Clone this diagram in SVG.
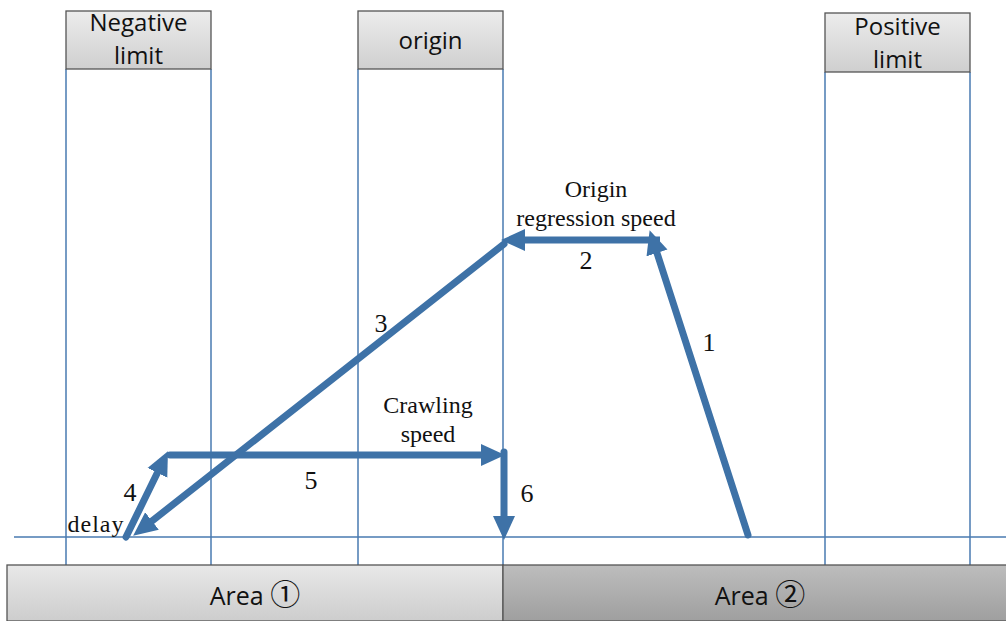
<svg xmlns="http://www.w3.org/2000/svg" width="1006" height="621" viewBox="0 0 1006 621">
<defs>
<linearGradient id="gBox" x1="0" y1="0" x2="0" y2="1"><stop offset="0" stop-color="#ececec"/><stop offset="1" stop-color="#cfcfcf"/></linearGradient>
<linearGradient id="gA1" x1="0" y1="0" x2="0" y2="1"><stop offset="0" stop-color="#e8e8e8"/><stop offset="1" stop-color="#cdcdcd"/></linearGradient>
<linearGradient id="gA2" x1="0" y1="0" x2="0" y2="1"><stop offset="0" stop-color="#bdbdbd"/><stop offset="1" stop-color="#9f9f9f"/></linearGradient>
<marker id="ah" markerUnits="userSpaceOnUse" markerWidth="26" markerHeight="24" viewBox="0 -12 26 24" refX="0" refY="0" orient="auto"><path d="M0,-11 L24,0 L0,11 z" fill="#3e72a7"/></marker>
</defs>
<style>
.grid{stroke:#4a7bb1;stroke-width:1.5;fill:none}
.box{fill:url(#gBox);stroke:#555;stroke-width:1.3}
.lbl{font-family:"Open Sans","Liberation Sans",sans-serif;font-size:24px;fill:#111;text-anchor:middle}
.ser{font-family:"Liberation Serif",serif;font-size:24px;fill:#111;text-anchor:middle}
.num{font-size:26px}
.arr{stroke:#3e72a7;stroke-width:7;fill:none;marker-end:url(#ah)}
.area{font-family:"Open Sans","Liberation Sans",sans-serif;font-size:25px;fill:#111;text-anchor:middle}
.circ{font-family:"Noto Sans CJK SC","Noto Sans CJK JP",sans-serif;font-size:30px}
</style>
<rect width="1006" height="621" fill="#fff"/>
<g id="gridlines">
<path class="grid" d="M66,69V565M211,69V565M358,69V565M503,69V565M825,72V565M970,72V565M14,537H1006"/>
</g>
<g id="negative-limit">
<rect class="box" x="66" y="11" width="145" height="58"/>
<text class="lbl" x="138.5" y="31">Negative</text>
<text class="lbl" x="138.5" y="64">limit</text>
</g>
<g id="origin">
<rect class="box" x="358" y="11" width="145" height="58"/>
<text class="lbl" x="430.5" y="49">origin</text>
</g>
<g id="positive-limit">
<rect class="box" x="825" y="13" width="145" height="59"/>
<text class="lbl" x="897.5" y="35">Positive</text>
<text class="lbl" x="897.5" y="68">limit</text>
</g>
<g id="area1">
<rect x="7" y="565" width="496" height="56" fill="url(#gA1)" stroke="#555" stroke-width="1.3"/>
<text class="area" x="255" y="605">Area <tspan class="circ">①</tspan></text>
</g>
<g id="area2">
<rect x="503" y="565" width="510" height="56" fill="url(#gA2)" stroke="#555" stroke-width="1.3"/>
<text class="area" x="760" y="605">Area <tspan class="circ">②</tspan></text>
</g>
<g id="connectors">
<path class="arr" d="M748,535 L657,253" stroke-linecap="round"/>
<path class="arr" d="M660,240 L525,240"/>
<path class="arr" d="M504,244 L152,521" stroke-linecap="round"/>
<path class="arr" d="M126,537 L157.4,472.8" stroke-linecap="round"/>
<path class="arr" d="M170,455 L481,455" stroke-linecap="round"/>
<path class="arr" d="M504,452 L504,516" stroke-linecap="round"/>
</g>
<g id="labels">
<text class="ser" x="596" y="197">Origin</text>
<text class="ser" x="596" y="226">regression speed</text>
<text class="ser num" x="586" y="269">2</text>
<text class="ser num" x="709" y="351">1</text>
<text class="ser num" x="381" y="332">3</text>
<text class="ser" x="428" y="413">Crawling</text>
<text class="ser" x="428" y="442">speed</text>
<text class="ser num" x="130" y="501">4</text>
<text class="ser num" x="311" y="489">5</text>
<text class="ser num" x="527" y="502">6</text>
<text class="ser" x="96" y="532" letter-spacing="1">delay</text>
</g>
</svg>
